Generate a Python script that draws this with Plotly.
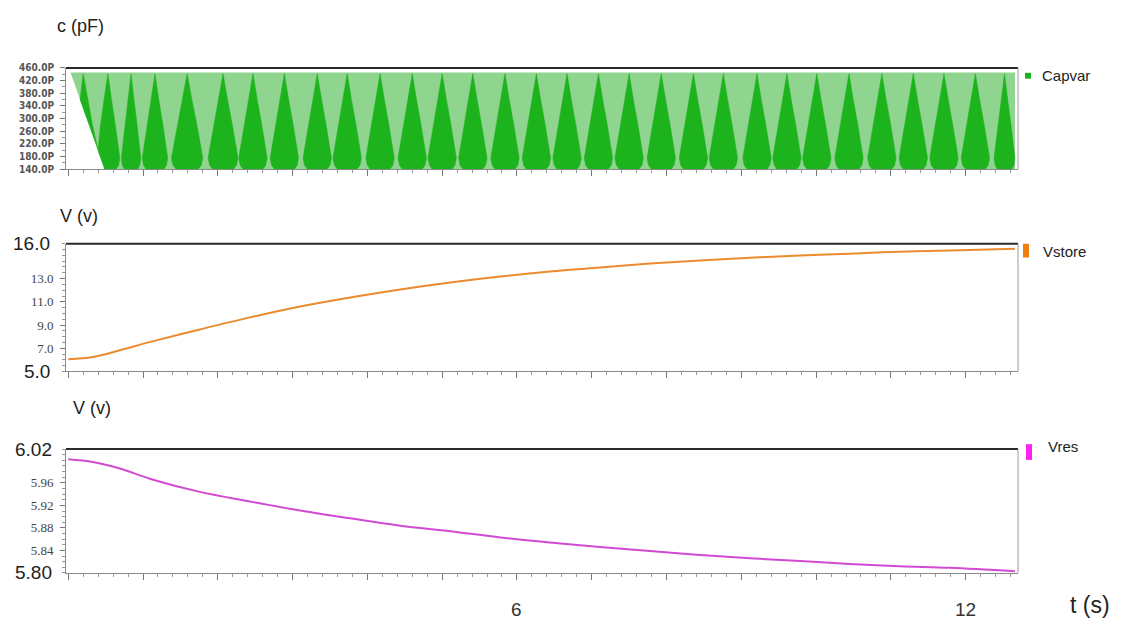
import numpy as np
import plotly.graph_objects as go

W, H = 1129, 630

# ---------------- data ----------------
t_curve = [0, 0.33, 0.7, 1.1, 1.76, 2.43, 3.1, 3.77, 4.44, 5.11, 5.78, 6.44,
           7.11, 7.78, 8.45, 9.12, 9.79, 10.45, 11.12, 11.79, 12.66]
vstore = [6.05, 6.25, 6.85, 7.55, 8.62, 9.66, 10.60, 11.38, 12.07, 12.67, 13.18,
          13.61, 13.96, 14.30, 14.56, 14.80, 14.98, 15.15, 15.31, 15.41, 15.58]
vres = [6.002, 5.997, 5.985, 5.967, 5.944, 5.927, 5.911, 5.897, 5.884, 5.874, 5.863,
        5.854, 5.846, 5.839, 5.832, 5.826, 5.821, 5.816, 5.812, 5.809, 5.803]

# Capvar: envelope of the fast oscillation and the dark "beat" spikes
cap_top_t = [0.0, 12.66]
cap_top_v = [445, 445]
cap_low_t = [0.03, 0.49, 12.66]
cap_low_v = [445, 140, 140]
cap_peak = 442
cap_min = 140
spike_t = [0.20, 0.53, 0.84, 1.16, 1.59, 2.07, 2.47, 2.89, 3.33, 3.73, 4.17, 4.60,
           5.00, 5.41, 5.84, 6.26, 6.67, 7.09, 7.50, 7.93, 8.36, 8.76, 9.21, 9.61,
           10.01, 10.44, 10.88, 11.30, 11.71, 12.13, 12.52]
spike_hw = [0.20, 0.16, 0.13, 0.17, 0.21, 0.20, 0.19, 0.19, 0.19, 0.19, 0.19, 0.19,
            0.19, 0.19, 0.19, 0.19, 0.19, 0.19, 0.19, 0.19, 0.19, 0.19, 0.19, 0.19,
            0.19, 0.19, 0.19, 0.19, 0.19, 0.19, 0.14]

cap_ticks = [140, 180, 220, 260, 300, 340, 380, 420, 460]
vstore_ticks = [7, 9, 11, 13]
vres_ticks = [5.84, 5.88, 5.92, 5.96]
x_labels = [6, 12]

# ---------------- helpers ----------------
def px(x):
    return x / W

def py(y):
    return 1 - y / H

LIGHT = "#8fd48f"
DARK = "#1db31d"
ORANGE = "#ec8a2e"
MAGENTA = "#d24ad2"

fig = go.Figure()

# light band: whole oscillation range
lx = list(cap_top_t) + list(cap_low_t[::-1]) + [cap_top_t[0]]
ly = list(cap_top_v) + list(cap_low_v[::-1]) + [cap_top_v[0]]
fig.add_trace(go.Scatter(x=lx, y=ly, fill="toself", fillcolor=LIGHT, mode="lines",
                         line=dict(width=0, color=LIGHT), hoverinfo="skip",
                         showlegend=False, xaxis="x", yaxis="y"))

# dark spikes (clipped to the left ramp of the oscillation)
prof = [(0.0, cap_peak), (0.3, 360), (0.62, 280), (0.92, 200), (1.0, 175), (0.9, 152), (0.7, cap_min)]
def left_bound(v):
    return float(np.interp(v, [cap_low_v[1], cap_low_v[0]], [cap_low_t[1], cap_low_t[0]]))
t_end = cap_top_t[-1]
sx, sy = [], []
for c, w in zip(spike_t, spike_hw):
    pts = [(c - f * w, v) for f, v in prof] + [(c + f * w, v) for f, v in prof[::-1]]
    for x, v in pts:
        x = min(max(x, left_bound(v)), t_end)
        sx.append(x)
        sy.append(v)
    sx.append(None)
    sy.append(None)
fig.add_trace(go.Scatter(x=sx, y=sy, fill="toself", fillcolor=DARK, mode="lines",
                         line=dict(width=0.5, color=DARK), hoverinfo="skip",
                         showlegend=False, xaxis="x", yaxis="y"))

fig.add_trace(go.Scatter(x=t_curve, y=vstore, mode="lines", line=dict(color=ORANGE, width=2, shape="spline"),
                         showlegend=False, xaxis="x2", yaxis="y2"))
fig.add_trace(go.Scatter(x=t_curve, y=vres, mode="lines", line=dict(color=MAGENTA, width=2, shape="spline"),
                         showlegend=False, xaxis="x3", yaxis="y3"))

# ---------------- axes ----------------
xdom = [px(66), px(1018)]
xr = [-0.03, 12.70]
common_x = dict(domain=xdom, range=xr, showgrid=False, zeroline=False,
                showline=True, linecolor="#8a8a8a", linewidth=1, showticklabels=False,
                ticks="outside", tickvals=list(range(0, 13)), ticklen=6, tickcolor="#777",
                minor=dict(dtick=0.2, tick0=0, ticks="outside", ticklen=3, tickcolor="#999"))
common_y = dict(showgrid=False, zeroline=False, showline=True, linecolor="#8a8a8a",
                linewidth=1, ticks="outside", ticklen=5, tickcolor="#777",
                ticklabelstandoff=4)

fig.update_layout(
    width=W, height=H, margin=dict(l=0, r=0, t=0, b=0),
    paper_bgcolor="white", plot_bgcolor="white",
    xaxis=dict(**common_x, anchor="y"),
    yaxis=dict(**common_y, domain=[py(167), py(64)], range=[140, 460],
               tickvals=cap_ticks, ticktext=[f"{v:.1f}P" for v in cap_ticks],
               tickfont=dict(family="DejaVu Sans Condensed", size=10, color="#555", weight="bold"),
               minor=dict(dtick=20, tick0=140, ticks="outside", ticklen=3, tickcolor="#999")),
    xaxis2=dict(**common_x, anchor="y2"),
    yaxis2=dict(**common_y, domain=[py(373), py(243)], range=[5, 16],
                tickvals=vstore_ticks, ticktext=[f"{v:.1f}" for v in vstore_ticks],
                tickfont=dict(family="Liberation Serif", size=13, color="#444"),
                minor=dict(dtick=0.5, tick0=5, ticks="outside", ticklen=3, tickcolor="#999")),
    xaxis3=dict(**common_x, anchor="y3"),
    yaxis3=dict(**common_y, domain=[py(578), py(452)], range=[5.80, 6.02],
                tickvals=vres_ticks, ticktext=[f"{v:.2f}" for v in vres_ticks],
                tickfont=dict(family="Liberation Serif", size=13, color="#444"),
                minor=dict(dtick=0.01, tick0=5.8, ticks="outside", ticklen=3, tickcolor="#999")),
)

# frame: dark top line and grey right border for each panel
shapes = []
for ax in ["", "2", "3"]:
    shapes.append(dict(type="line", xref=f"x{ax} domain", yref=f"y{ax} domain",
                       x0=0, x1=1, y0=1, y1=1, line=dict(color="#2b2b2b", width=2)))
    shapes.append(dict(type="line", xref=f"x{ax} domain", yref=f"y{ax} domain",
                       x0=1, x1=1, y0=0, y1=1, line=dict(color="#9a9a9a", width=1)))
# legend markers
shapes.append(dict(type="rect", xref="paper", yref="paper", x0=px(1025), x1=px(1031),
                   y0=py(75), y1=py(69), fillcolor=DARK, line=dict(width=0)))
shapes.append(dict(type="rect", xref="paper", yref="paper", x0=px(1023), x1=px(1029),
                   y0=py(257), y1=py(243), fillcolor="#f07d10", line=dict(width=0)))
shapes.append(dict(type="rect", xref="paper", yref="paper", x0=px(1026), x1=px(1032),
                   y0=py(463), y1=py(447), fillcolor="#ff22ee", line=dict(width=0)))
fig.update_layout(shapes=shapes)

ann = []
def text(x, y, s, size, xanchor="left", color="#222", family="Liberation Sans"):
    ann.append(dict(x=px(x), y=py(y), xref="paper", yref="paper", text=s, showarrow=False,
                    xanchor=xanchor, yanchor="middle",
                    font=dict(family=family, size=size, color=color)))

text(55, 21, "c (pF)", 18)
text(58, 215, "V (v)", 18)
text(71, 410, "V (v)", 18)
text(1040, 72, "Capvar", 15)
text(1041, 251, "Vstore", 15)
text(1046, 449, "Vres", 15)
text(52, 243, "16.0", 19, xanchor="right")
text(52, 373, "5.0", 19, xanchor="right")
text(54, 452, "6.02", 19, xanchor="right")
text(54, 578, "5.80", 19, xanchor="right")
text(1090, 611, "t (s)", 23, xanchor="center")
for v in x_labels:
    ann.append(dict(x=v, y=py(615), xref="x3", yref="paper", text=str(v), showarrow=False,
                    xanchor="center", yanchor="middle",
                    font=dict(family="Liberation Sans", size=19, color="#333")))
fig.update_layout(annotations=ann)

fig.write_html("out.html", config={"displayModeBar": False},
               post_script="document.body.style.margin='0';document.body.style.overflow='hidden';")
